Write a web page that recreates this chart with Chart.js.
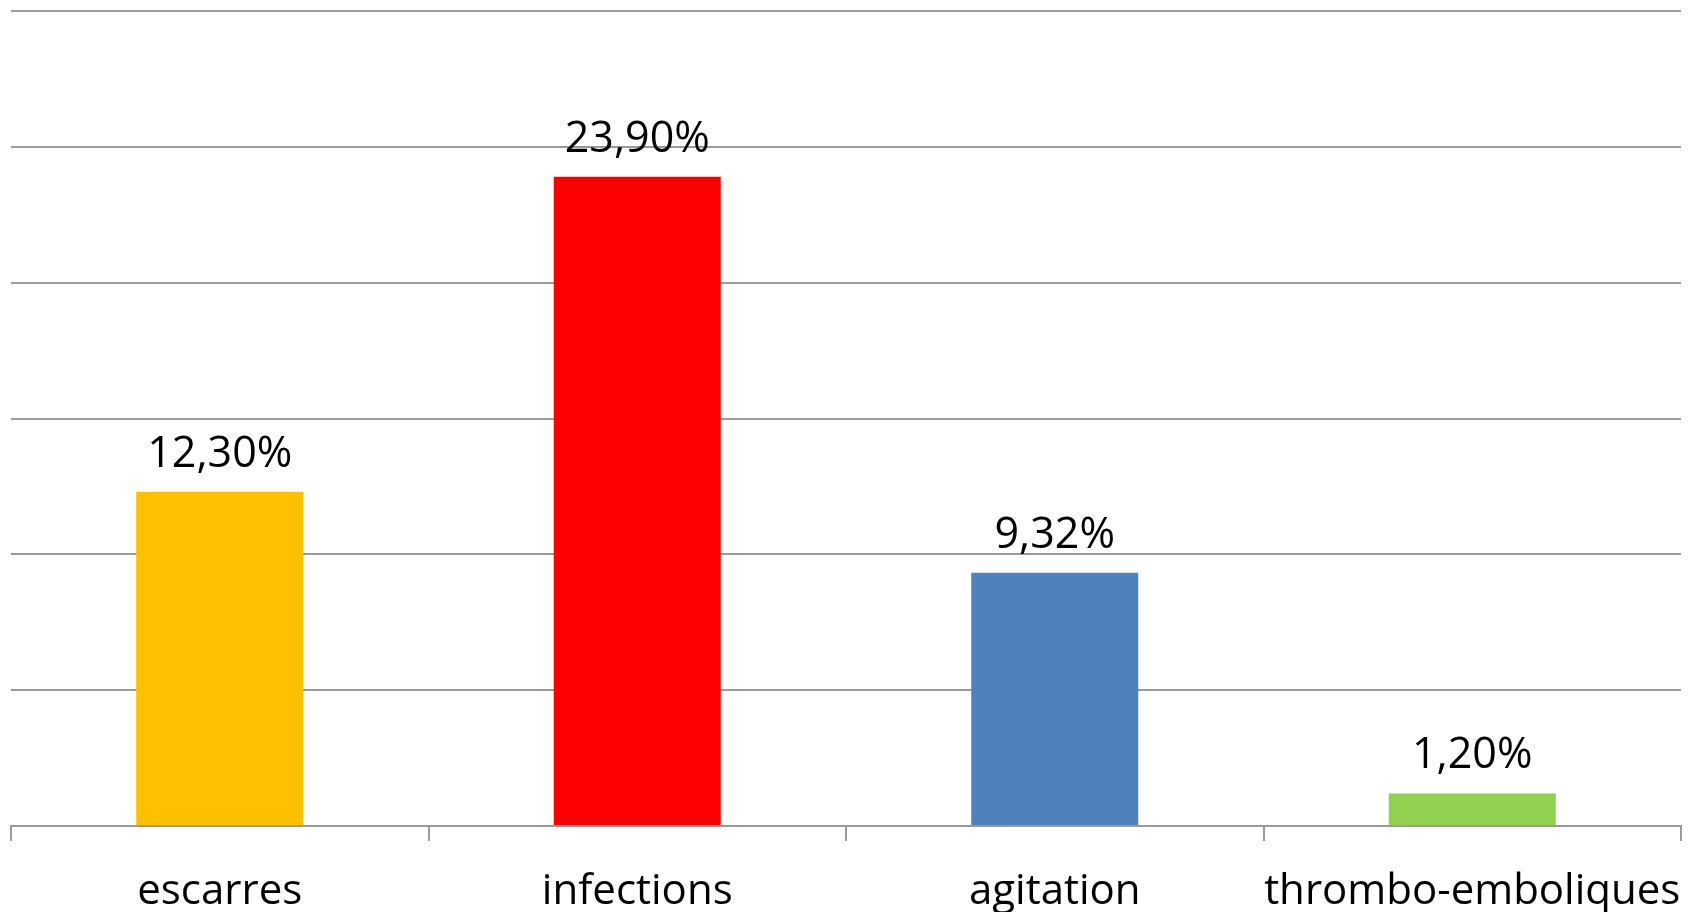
<!DOCTYPE html>
<html>
<head>
<meta charset="utf-8">
<script src="https://cdn.jsdelivr.net/npm/chart.js@4/dist/chart.umd.min.js"></script>
<style>
  html, body { margin: 0; padding: 0; background: #fff; }
  #zone { width: 1696px; height: 912px; }
</style>
</head>
<body>
<div id="zone"><canvas id="graphique"></canvas></div>
<script>
// Données du graphique
var categories = ['escarres', 'infections', 'agitation', 'thrombo-emboliques'];
var valeurs = [12.30, 23.90, 9.32, 1.20];
var couleurs = ['#FFC000', '#FF0000', '#4F81BD', '#92D050'];

// Étiquettes au-dessus des barres (format français)
var etiquettesBarres = {
    id: 'etiquettesBarres',
    afterDatasetsDraw: function (chart) {
        var c = chart.ctx;
        var meta = chart.getDatasetMeta(0);
        c.save();
        c.font = '43px "Open Sans"';
        c.fillStyle = '#000';
        c.textAlign = 'center';
        c.textBaseline = 'alphabetic';
        meta.data.forEach(function (barre, i) {
            var texte = valeurs[i].toFixed(2).replace('.', ',') + '%';
            c.fillText(texte, barre.x, barre.y - 25);
        });
        c.restore();
    }
};

var ctx = document.getElementById('graphique').getContext('2d');
var graphique = new Chart(ctx, {
    type: 'bar',
    data: {
        labels: categories,
        datasets: [{
            data: valeurs,
            backgroundColor: couleurs,
            borderWidth: 0,
            barPercentage: 0.4,
            categoryPercentage: 1.0
        }]
    },
    options: {
        responsive: true,
        maintainAspectRatio: false,
        animation: false,
        layout: { padding: { left: 11, right: 15, top: 11, bottom: 0 } },
        plugins: {
            legend: { display: false },
            tooltip: { enabled: false }
        },
        scales: {
            x: {
                afterFit: function (axe) {
                    // hauteur fixe de l'axe, sans marge pour les étiquettes qui débordent
                    axe.height = 86;
                    axe.paddingLeft = 0;
                    axe.paddingRight = 0;
                },
                grid: {
                    offset: true,
                    drawOnChartArea: false,
                    drawTicks: true,
                    tickLength: 15,
                    color: '#9a9a9a',
                    lineWidth: 2
                },
                border: { color: '#9a9a9a', width: 2 },
                ticks: {
                    color: '#000',
                    padding: 26,
                    autoSkip: false,
                    maxRotation: 0,
                    minRotation: 0,
                    font: { family: 'Open Sans', size: 42 }
                }
            },
            y: {
                min: 0,
                max: 30,
                ticks: { stepSize: 5, display: false },
                grid: { color: '#9a9a9a', lineWidth: 2, drawTicks: false },
                border: { display: false }
            }
        }
    },
    plugins: [etiquettesBarres]
});
</script>
</body>
</html>
